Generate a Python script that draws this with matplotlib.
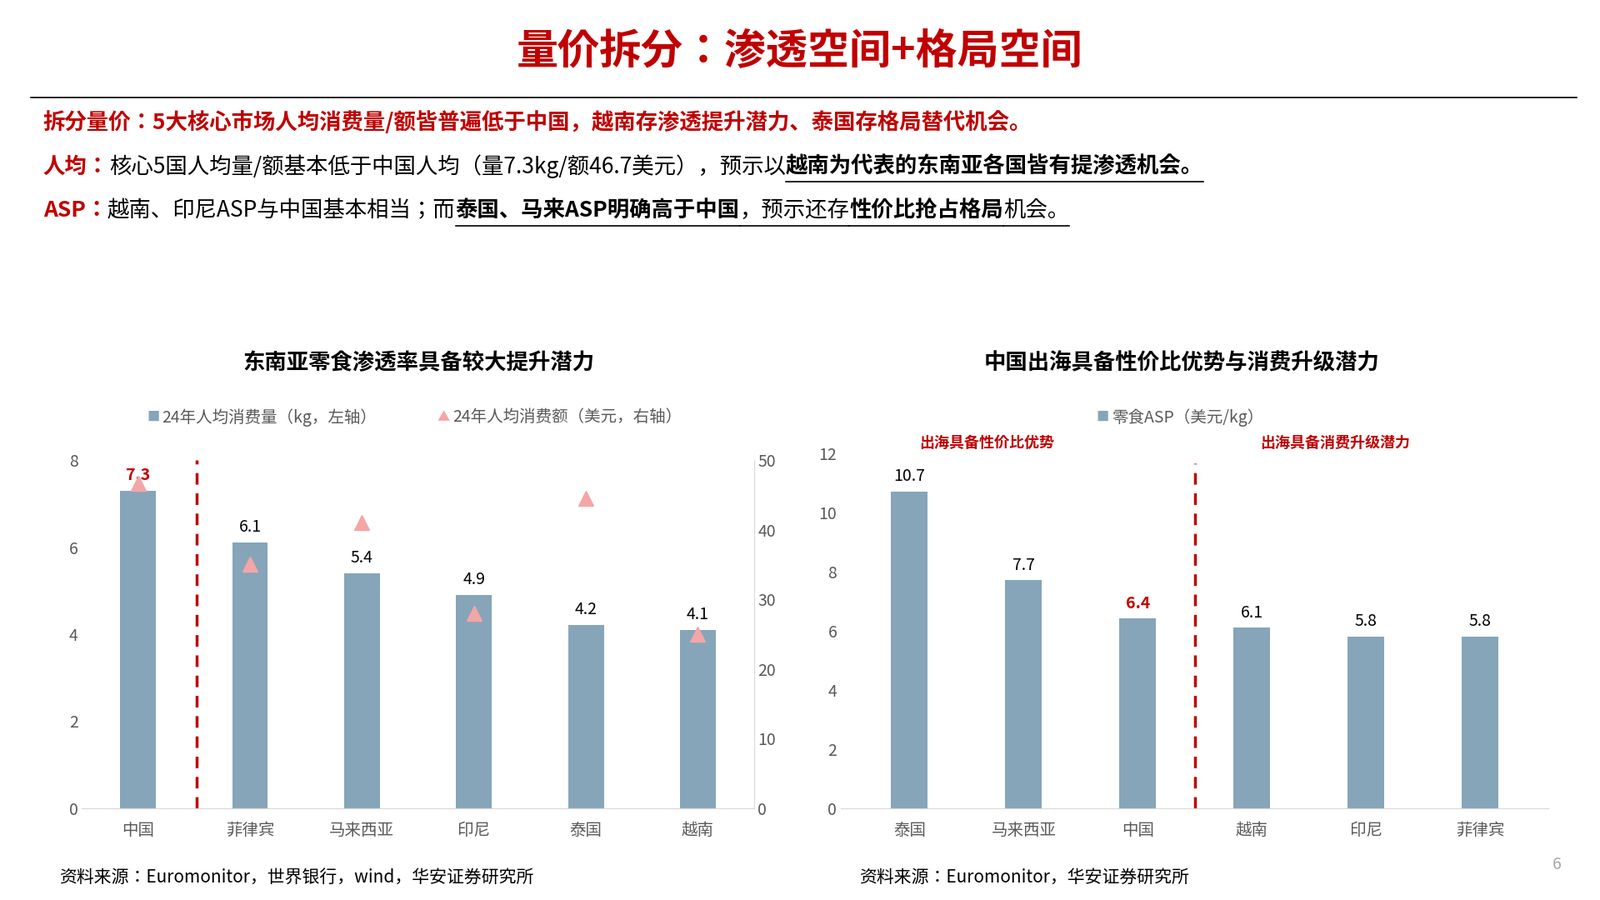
import matplotlib.pyplot as plt
from matplotlib.lines import Line2D
from matplotlib import font_manager as fm

# pick up a CJK font file directly
cjk = None
for f in fm.findSystemFonts():
    if 'NotoSansCJK' in f.replace(' ', '') or 'CJK' in f:
        fm.fontManager.addfont(f)
        if cjk is None or 'SC' in f:
            cjk = fm.FontProperties(fname=f).get_name()
plt.rcParams['font.family'] = [cjk or 'Noto Sans CJK SC', 'DejaVu Sans']

# left chart data
left_cats = ['中国', '菲律宾', '马来西亚', '印尼', '泰国', '越南']
left_kg = [7.3, 6.1, 5.4, 4.9, 4.2, 4.1]
left_usd = [46.7, 35.0, 41.0, 28.0, 44.5, 25.0]
# right chart data
right_cats = ['泰国', '马来西亚', '中国', '越南', '印尼', '菲律宾']
right_asp = [10.7, 7.7, 6.4, 6.1, 5.8, 5.8]

RED = '#C00000'
BAR = '#86A5B9'
TRI = '#F4A6A6'
GREY = '#595959'

W, H = 1560, 880
fig = plt.figure(figsize=(19.2, 10.8), dpi=100)
renderer = fig.canvas.get_renderer()

def fx(x): return x / W
def fy(y): return 1 - y / H

def run_line(x0, y, parts, size=19):
    # parts: (text, colour, bold, underline)
    x = fx(x0)
    for txt, col, bold, ul in parts:
        t = fig.text(x, fy(y), txt, fontsize=size, color=col,
                     fontweight='bold' if bold else 'normal', va='center')
        bb = t.get_window_extent(renderer)
        w = bb.width / fig.bbox.width
        if ul:
            fig.add_artist(Line2D([x, x + w], [fy(y + 15), fy(y + 15)], color='black', lw=1.2))
        x += w

fig.text(0.5, fy(50), '量价拆分：渗透空间+格局空间', ha='center', va='center',
         fontsize=36, fontweight='bold', color=RED)
fig.add_artist(Line2D([fx(30), fx(1537)], [fy(95), fy(95)], color='black', lw=1.2))

run_line(42, 120, [('拆分量价：5大核心市场人均消费量/额皆普遍低于中国，越南存渗透提升潜力、泰国存格局替代机会。', RED, True, False)])
run_line(42, 163, [('人均：', RED, True, False),
                   ('核心5国人均量/额基本低于中国人均（量7.3kg/额46.7美元），预示以', 'black', False, False),
                   ('越南为代表的东南亚各国皆有提渗透机会。', 'black', True, True)])
run_line(42, 206, [('ASP：', RED, True, False),
                   ('越南、印尼ASP与中国基本相当；而', 'black', False, False),
                   ('泰国、马来ASP明确高于中国', 'black', True, True),
                   ('，预示还存', 'black', False, True),
                   ('性价比抢占格局', 'black', True, True),
                   ('机会。', 'black', False, True)])

def style(ax):
    for s in ['top', 'right', 'left']:
        ax.spines[s].set_visible(False)
    ax.spines['bottom'].set_color('#D9D9D9')
    ax.tick_params(length=0, colors=GREY, labelsize=14)

# left chart
ax = fig.add_axes([fx(80), fy(790), fx(735 - 80), (790 - 450) / H])
x = range(len(left_cats))
ax.bar(x, left_kg, width=0.32, color=BAR)
ax.set_ylim(0, 8)
ax.set_yticks([0, 2, 4, 6, 8])
ax.set_xlim(-0.5, 5.5)
ax.set_xticks(list(x))
ax.set_xticklabels(left_cats)
style(ax)
ax.tick_params(axis='x', pad=12)
for i, v in enumerate(left_kg):
    ax.text(i, v + 0.25, f'{v}', ha='center', fontsize=14,
            color=RED if i == 0 else 'black', fontweight='bold' if i == 0 else 'normal')
ax.axvline(0.52, color=RED, lw=2.5, ls=(0, (4, 3)))
ax2 = ax.twinx()
ax2.plot(list(x), left_usd, '^', color=TRI, ms=13, ls='none')
ax2.set_ylim(0, 50)
ax2.set_yticks([0, 10, 20, 30, 40, 50])
style(ax2)
ax2.spines['right'].set_visible(True)
ax2.spines['right'].set_color('#D9D9D9')
fig.text(fx(408), fy(355), '东南亚零食渗透率具备较大提升潜力', ha='center', va='center',
         fontsize=19, fontweight='bold')
fig.text(fx(143), fy(408), '■', color=BAR, fontsize=11, va='center')
fig.text(fx(158), fy(408), '24年人均消费量（kg，左轴）', color=GREY, fontsize=14, va='center')
fig.text(fx(426), fy(408), '▲', color=TRI, fontsize=11, va='center')
fig.text(fx(441), fy(408), '24年人均消费额（美元，右轴）', color=GREY, fontsize=14, va='center')
fig.text(fx(58), fy(858), '资料来源：Euromonitor，世界银行，wind，华安证券研究所', fontsize=15,
         style='italic', va='center')

# right chart
bx = fig.add_axes([fx(820), fy(790), fx(1510 - 820), (790 - 443) / H])
x = range(len(right_cats))
bx.bar(x, right_asp, width=0.32, color=BAR)
bx.set_ylim(0, 12)
bx.set_yticks(range(0, 13, 2))
bx.set_xlim(-0.6, 5.6)
bx.set_xticks(list(x))
bx.set_xticklabels(right_cats)
style(bx)
bx.tick_params(axis='x', pad=12)
for i, v in enumerate(right_asp):
    bx.text(i, v + 0.35, f'{v}', ha='center', fontsize=14,
            color=RED if i == 2 else 'black', fontweight='bold' if i == 2 else 'normal')
bx.axvline(2.5, ymax=0.97, color=RED, lw=2.5, ls=(0, (4, 3)))
fig.text(fx(1152), fy(355), '中国出海具备性价比优势与消费升级潜力', ha='center', va='center',
         fontsize=19, fontweight='bold')
fig.text(fx(1069), fy(408), '■', color=BAR, fontsize=11, va='center')
fig.text(fx(1084), fy(408), '零食ASP（美元/kg）', color=GREY, fontsize=14, va='center')
fig.text(fx(962), fy(433), '出海具备性价比优势', color=RED, fontsize=13, fontweight='bold',
         ha='center', va='center')
fig.text(fx(1302), fy(433), '出海具备消费升级潜力', color=RED, fontsize=13, fontweight='bold',
         ha='center', va='center')
fig.text(fx(838), fy(858), '资料来源：Euromonitor，华安证券研究所', fontsize=15,
         style='italic', va='center')
fig.text(fx(1518), fy(845), '6', color='#A6A6A6', fontsize=14, ha='center', va='center')

fig.savefig('out.png', dpi=100)
